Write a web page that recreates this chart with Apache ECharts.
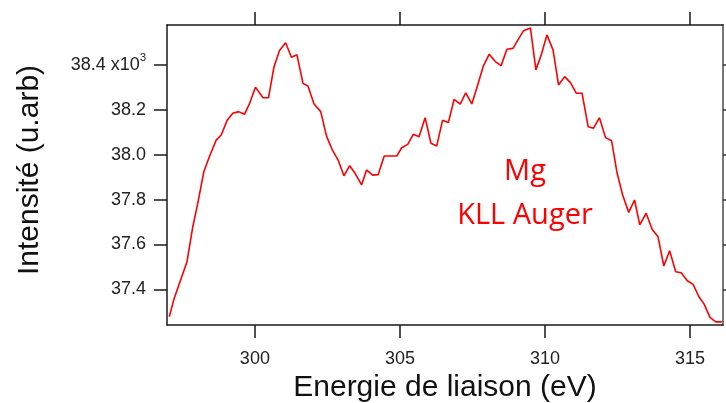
<!DOCTYPE html>
<html>
<head>
<meta charset="utf-8">
<script src="https://cdn.jsdelivr.net/npm/echarts@6/dist/echarts.min.js"></script>
<style>
html,body{margin:0;padding:0;background:#fff;}
#c{width:726px;height:403px;}
</style>
</head>
<body>
<div id="c"></div>
<script>
// Binding energy (eV)
const energy = [
297.05,297.20,297.40,297.66,297.86,298.03,298.24,298.43,298.67,298.84,
299.05,299.24,299.44,299.64,299.82,300.02,300.28,300.47,300.66,300.85,
301.06,301.26,301.45,301.66,301.83,302.04,302.27,302.47,302.66,302.87,
303.07,303.27,303.46,303.68,303.85,304.06,304.25,304.46,304.67,304.89,
305.06,305.27,305.46,305.66,305.87,306.07,306.27,306.47,306.67,306.87,
307.08,307.27,307.48,307.69,307.88,308.08,308.29,308.49,308.69,308.90,
309.09,309.26,309.50,309.69,309.88,310.07,310.28,310.47,310.68,310.88,
311.08,311.28,311.49,311.68,311.88,312.09,312.30,312.49,312.68,312.89,
313.09,313.27,313.49,313.70,313.90,314.10,314.30,314.51,314.70,314.91,
315.11,315.31,315.49,315.69,315.89,316.10
];
// Intensity (x10^3, arb. units)
const intensity = [
37.278,37.352,37.427,37.523,37.679,37.783,37.924,37.991,38.066,38.088,
38.155,38.185,38.192,38.180,38.229,38.301,38.254,38.254,38.392,38.464,
38.499,38.434,38.445,38.318,38.306,38.226,38.192,38.083,38.024,37.976,
37.906,37.951,37.916,37.865,37.932,37.909,37.911,37.994,37.994,37.994,
38.031,38.046,38.091,38.080,38.165,38.051,38.039,38.153,38.143,38.247,
38.225,38.276,38.226,38.314,38.396,38.448,38.415,38.397,38.470,38.474,
38.516,38.552,38.565,38.378,38.448,38.534,38.467,38.311,38.348,38.321,
38.274,38.274,38.125,38.118,38.165,38.076,38.062,37.917,37.820,37.743,
37.798,37.687,37.739,37.667,37.634,37.504,37.572,37.478,37.474,37.438,
37.422,37.367,37.334,37.275,37.255,37.255
];
const xTicks = [300, 305, 310, 315];
const yTicks = [37.4, 37.6, 37.8, 38.0, 38.2, 38.4];
const xTitle = 'Energie de liaison (eV)';
const yTitle = 'Intensité (u.arb)';
const annot1 = 'Mg';
const annot2 = 'KLL Auger';

const seriesData = energy.map((e, i) => [e, intensity[i]]);
const XMIN = 296.97, XMAX = 316.14, YMIN = 37.241, YMAX = 38.578;
const FONT = '"Liberation Sans", Arial, sans-serif';

const chart = echarts.init(document.getElementById('c'), null, {renderer: 'canvas'});
const axisLine = {show: true, lineStyle: {color: '#1a1a1a', width: 1.5}};
const tick = (vals) => ({show: true, inside: false, length: 13, customValues: vals, lineStyle: {color: '#1a1a1a', width: 1.5}});

chart.setOption({
  animation: false,
  backgroundColor: '#fff',
  grid: {left: 167, top: 25, right: 3, bottom: 78, containLabel: false, outerBoundsMode: 'none'},
  xAxis: [
    {
      type: 'value', position: 'bottom', min: XMIN, max: XMAX,
      axisLine: axisLine,
      axisTick: tick(xTicks),
      axisLabel: {customValues: xTicks, margin: 25, fontSize: 18, color: '#222', fontFamily: FONT},
      splitLine: {show: false},
      name: xTitle, nameLocation: 'middle', nameGap: 45,
      nameTextStyle: {fontSize: 30, color: '#111', fontFamily: FONT}
    },
    {
      type: 'value', position: 'top', min: XMIN, max: XMAX,
      axisLine: axisLine,
      axisTick: tick(xTicks),
      axisLabel: {show: false},
      splitLine: {show: false}
    }
  ],
  yAxis: [
    {
      type: 'value', position: 'left', min: YMIN, max: YMAX,
      axisLine: axisLine,
      axisTick: tick(yTicks),
      axisLabel: {
        customValues: yTicks, margin: 21, fontSize: 18, color: '#222', fontFamily: FONT,
        formatter: function (v) {
          const s = v.toFixed(1);
          return Math.abs(v - 38.4) < 1e-6 ? s + ' x10{sup|3}' : s;
        },
        rich: {sup: {fontSize: 11, verticalAlign: 'bottom', padding: [0, 0, 13, 0], color: '#222', fontFamily: FONT}}
      },
      splitLine: {show: false},
      name: yTitle, nameLocation: 'middle', nameGap: 122, nameRotate: 90,
      nameTextStyle: {fontSize: 30, color: '#111', fontFamily: FONT, padding: [0, 0, 0, 10]}
    },
    {
      type: 'value', position: 'right', min: YMIN, max: YMAX,
      axisLine: {show: true, lineStyle: {color: '#777', width: 2}},
      axisTick: {show: true, inside: false, length: 8, customValues: yTicks, lineStyle: {color: '#333', width: 1.5}},
      axisLabel: {show: false},
      splitLine: {show: false}
    }
  ],
  graphic: [
    {type: 'text', x: 525, y: 157, style: {text: annot1, fill: '#ff0000', font: '29px "Open Sans", sans-serif', textAlign: 'center'}},
    {type: 'text', x: 525, y: 201, style: {text: annot2, fill: '#ff0000', font: '29px "Open Sans", sans-serif', textAlign: 'center'}}
  ],
  series: [{
    type: 'line', data: seriesData, xAxisIndex: 0, yAxisIndex: 0,
    showSymbol: false, symbol: 'none',
    lineStyle: {color: '#ff0000', width: 1.6},
    clip: true
  }]
});
</script>
</body>
</html>
